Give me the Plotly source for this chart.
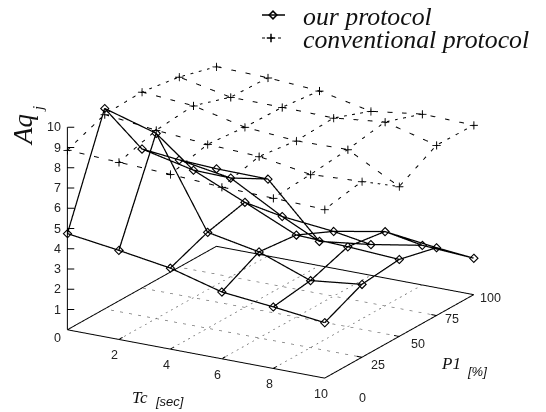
import plotly.graph_objects as go

tc = [0, 2, 4, 6, 8, 10]
p1 = [0, 25, 50, 75, 100]
z_ticks = [0, 1, 2, 3, 4, 5, 6, 7, 8, 9, 10]
tc_ticks = [2, 4, 6, 8, 10]
p_ticks = [0, 25, 50, 75, 100]

# rows: Tc, columns: P1
our_protocol = [
    [4.75, 9.90, 6.87, 5.30, 3.83],
    [4.40, 9.15, 6.30, 4.88, 3.80],
    [4.00, 4.74, 5.19, 3.46, 1.20],
    [3.30, 4.25, 4.05, 3.20, 1.52],
    [3.04, 3.31, 3.95, 3.67, 1.96],
    [2.74, 3.60, 3.80, 3.35, 1.80],
]
conventional = [
    [8.87, 9.60, 9.68, 9.39, 8.87],
    [8.75, 9.30, 9.48, 8.87, 8.80],
    [8.63, 9.08, 8.90, 8.85, 8.63],
    [8.48, 8.96, 8.70, 8.80, 8.10],
    [8.41, 8.55, 8.75, 9.08, 8.44],
    [8.33, 8.68, 7.40, 8.41, 8.37],
]

PAGE_MARGIN = 8
W, H = 546 - PAGE_MARGIN, 412 - PAGE_MARGIN


def wire(grid):
    xs, ys, zs = [], [], []
    for i, t in enumerate(tc):
        for j, p in enumerate(p1):
            xs.append(t); ys.append(p); zs.append(grid[i][j])
        xs.append(None); ys.append(None); zs.append(None)
    for j, p in enumerate(p1):
        for i, t in enumerate(tc):
            xs.append(t); ys.append(p); zs.append(grid[i][j])
        xs.append(None); ys.append(None); zs.append(None)
    return xs, ys, zs


fig = go.Figure()
x, y, z = wire(our_protocol)
fig.add_trace(go.Scatter3d(x=x, y=y, z=z, mode="lines+markers", name="our protocol", showlegend=False,
                           line=dict(color="#000", width=2.5),
                           marker=dict(symbol="diamond-open", size=3.2, color="#000")))
fig.add_trace(go.Scatter3d(x=x, y=y, z=z, mode="markers", name="our protocol", showlegend=False, hoverinfo="skip",
                           marker=dict(symbol="diamond-open", size=2.7, color="#000")))
x, y, z = wire(conventional)
fig.add_trace(go.Scatter3d(x=x, y=y, z=z, mode="lines+markers", name="conventional protocol", showlegend=False,
                           line=dict(color="#000", width=2, dash="dot"),
                           marker=dict(symbol="cross", size=4.5, color="#000")))

# base frame
fig.add_trace(go.Scatter3d(x=[0, 10, 10, 0, 0], y=[0, 0, 100, 100, 0], z=[0] * 5, mode="lines", showlegend=False,
                           line=dict(color="#000", width=2)))
# base grid
gx, gy = [], []
for t in tc[1:-1]:
    gx += [t, t, None]; gy += [0, 100, None]
for p in p_ticks[1:-1]:
    gx += [0, 10, None]; gy += [p, p, None]
fig.add_trace(go.Scatter3d(x=gx, y=gy, z=[0 if v is not None else None for v in gx], mode="lines", showlegend=False,
                           line=dict(color="#777", width=1.5, dash="dot")))
# z axis and ticks
ax, ay, az = [0, 0, None], [0, 0, None], [0, 10, None]
for v in z_ticks[1:]:
    ax += [0, 0.2, None]; ay += [0, 1.2, None]; az += [v, v, None]
for t in tc_ticks:
    ax += [t, t, None]; ay += [0, 2.5, None]; az += [0, 0, None]
for p in p_ticks[1:]:
    ax += [10, 9.8, None]; ay += [p, p, None]; az += [0, 0, None]
fig.add_trace(go.Scatter3d(x=ax, y=ay, z=az, mode="lines", showlegend=False,
                           line=dict(color="#000", width=2)))

# legend samples, drawn on a hidden page-sized 2D axis
sample_x = [262 - PAGE_MARGIN, 285 - PAGE_MARGIN]
fig.add_trace(go.Scatter(x=sample_x, y=[15 - PAGE_MARGIN] * 2, mode="lines", showlegend=False,
                         line=dict(color="#000", width=1.5), hoverinfo="skip"))
fig.add_trace(go.Scatter(x=[273 - PAGE_MARGIN], y=[15 - PAGE_MARGIN], mode="markers", showlegend=False,
                         marker=dict(symbol="diamond-open", size=6, color="#000", line=dict(width=1.5, color="#000"))))
fig.add_trace(go.Scatter(x=sample_x, y=[38 - PAGE_MARGIN] * 2, mode="lines", showlegend=False,
                         line=dict(color="#000", width=1.2, dash="3px,5px"), hoverinfo="skip"))
fig.add_trace(go.Scatter(x=[271 - PAGE_MARGIN], y=[38 - PAGE_MARGIN], mode="markers", showlegend=False,
                         marker=dict(symbol="cross-thin", size=6, color="#000", line=dict(width=1.5, color="#000"))))

tick_font = dict(family="Liberation Sans", size=12.5, color="#222")
annos = []
for v in z_ticks:
    annos.append(dict(x=0, y=0, z=v, text=str(v), showarrow=False, xanchor="right", xshift=-4,
                      yshift=-8 if v == 0 else 0, font=tick_font))
for t in tc_ticks:
    annos.append(dict(x=t, y=0, z=0, text=str(t), showarrow=False, xanchor="center", xshift=-4, yshift=-16,
                      font=tick_font))
p_off = {0: (38, -20), 25: (16, -8), 50: (19, -8), 75: (16, -3), 100: (17, -3)}
for p in p_ticks:
    annos.append(dict(x=10, y=p, z=0, text=str(p), showarrow=False, xanchor="center",
                      xshift=p_off[p][0], yshift=p_off[p][1], font=tick_font))

serif = "Liberation Serif"
sans = "Liberation Sans"


def label(px, py, text, fam, size, angle=0, anchor="center"):
    return dict(xref="paper", yref="paper", x=(px - PAGE_MARGIN) / W, y=1 - (py - PAGE_MARGIN) / H,
                text=f"<i>{text}</i>", showarrow=False, xanchor=anchor, yanchor="middle", textangle=angle,
                font=dict(family=fam, size=size, color="#111"))


S = 1.472
fig.update_layout(
    width=W, height=H, margin=dict(l=0, r=0, t=0, b=0), paper_bgcolor="white", plot_bgcolor="rgba(0,0,0,0)",
    font=dict(family=sans, size=12, color="#222"),
    showlegend=False,
    xaxis=dict(visible=False, range=[0, W], fixedrange=True),
    yaxis=dict(visible=False, range=[H, 0], fixedrange=True),
    annotations=[
        label(301, 16, "our protocol", serif, 25.8, anchor="left"),
        label(301, 40, "conventional protocol", serif, 25.8, anchor="left"),
        label(140, 397, "Tc", serif, 17),
        label(169, 401, "[sec]", sans, 13),
        label(451, 363, "P1", serif, 17),
        label(477, 371, "[%]", sans, 13),
        label(23, 130, "Aq", serif, 27, -90),
        label(38, 109, "j", serif, 15, -90),
    ],
    scene=dict(
        domain=dict(x=[0, 1], y=[0, 1]),
        xaxis=dict(visible=False, range=[0, 10]),
        yaxis=dict(visible=False, range=[0, 100]),
        zaxis=dict(visible=False, range=[0, 10]),
        aspectmode="manual",
        aspectratio=dict(x=S, y=S, z=S * 0.72),
        annotations=annos,
        camera=dict(projection=dict(type="orthographic"),
                    eye=dict(x=0.95 + 0.0277, y=-1.64 + 0.016, z=0.65 + 0.005),
                    center=dict(x=0.0277, y=0.016, z=0.005), up=dict(x=0, y=0, z=1)),
    ),
)
fig.write_html("out.html")
